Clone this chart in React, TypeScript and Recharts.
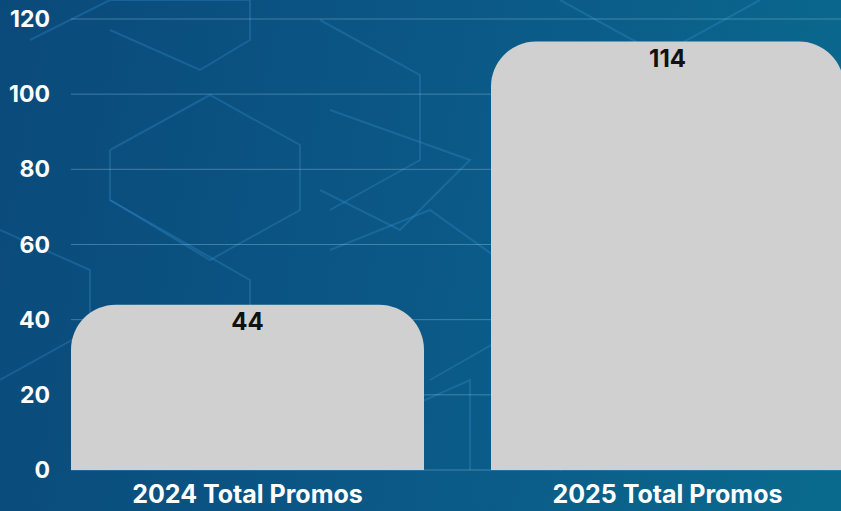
import React from 'react';
import { BarChart, Bar, XAxis, YAxis, CartesianGrid, LabelList } from 'recharts';

const categories = ['2024 Total Promos', '2025 Total Promos'];
const promoCounts = [44, 114];
const yTicks = [0, 20, 40, 60, 80, 100, 120];

const data = categories.map((name, i) => ({ name, value: promoCounts[i] }));

const FONT = 'Inter, "DejaVu Sans", sans-serif';

// faint hexagon-ish outlines behind the chart, purely decorative
const Backdrop: React.FC = () => (
  <svg width={841} height={511} style={{ position: 'absolute', left: 0, top: 0 }}>
    <g fill="none" stroke="rgba(60,150,215,0.28)" strokeWidth={2}>
      <polyline points="30,40 110,0 250,0 250,40 200,70 110,30" />
      <polyline points="110,150 210,95 300,145 300,210 210,260 110,200 110,150" />
      <polyline points="0,230 90,270 90,330 0,380" />
      <polyline points="110,200 250,280 250,330 110,410" />
      <polyline points="320,20 420,75 420,160 330,210" />
      <polyline points="330,110 470,160 400,230 320,190" />
      <polyline points="330,250 430,210 500,260 500,340 430,380" />
      <polyline points="560,0 660,55 760,0" />
      <polyline points="680,180 780,120 841,160" />
      <polyline points="540,300 650,360 650,430 560,470" />
      <polyline points="720,330 841,270" />
      <polyline points="380,420 470,380 470,470" />
      <polyline points="700,440 800,400 841,420" />
    </g>
  </svg>
);

const App: React.FC = () => {
  return (
    <div
      style={{
        position: 'absolute',
        left: 0,
        top: 0,
        width: 841,
        height: 511,
        overflow: 'hidden',
        background: 'linear-gradient(100deg, #0a4a7a 0%, #0b5886 50%, #0a6a8e 100%)',
        fontFamily: FONT,
      }}
    >
      <Backdrop />
      <div style={{ position: 'absolute', left: 0, top: 0 }}>
        <BarChart
          width={841}
          height={511}
          data={data}
          margin={{ top: 19, right: 0, left: 0, bottom: 0 }}
          barCategoryGap={33.5}
        >
          <CartesianGrid vertical={false} stroke="rgba(170,210,235,0.35)" strokeWidth={1} />
          <XAxis
            dataKey="name"
            height={41}
            padding={{ left: -33.5, right: -36.5 }}
            axisLine={false}
            tickLine={false}
            tick={{ fill: '#ffffff', fontSize: 25, fontWeight: 700, fontFamily: FONT }}
            tickMargin={9}
            interval={0}
          />
          <YAxis
            width={71}
            domain={[0, 120]}
            ticks={yTicks}
            axisLine={false}
            tickLine={false}
            tick={{ fill: '#ffffff', fontSize: 23, fontWeight: 700, fontFamily: FONT, textAnchor: 'end' }}
            tickMargin={15}
          />
          <Bar dataKey="value" fill="#d0d0d0" radius={[45, 45, 0, 0]} isAnimationActive={false}>
            <LabelList
              dataKey="value"
              position="insideTop"
              offset={8}
              fill="#111111"
              style={{ fontSize: 24, fontWeight: 700, fontFamily: FONT }}
            />
          </Bar>
        </BarChart>
      </div>
    </div>
  );
};

export default App;
